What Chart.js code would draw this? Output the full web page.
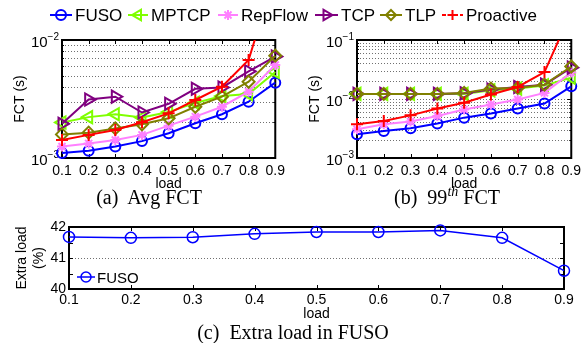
<!DOCTYPE html>
<html><head><meta charset="utf-8">
<script src="https://cdn.jsdelivr.net/npm/chart.js@4.4.1/dist/chart.umd.min.js"></script>
<style>
html,body{margin:0;padding:0;background:#fff;}
body{width:586px;height:343px;position:relative;overflow:hidden;font-family:'Liberation Sans',Arial,Helvetica,sans-serif;color:#000;}
canvas{position:absolute;}
.lgt{position:absolute;font-size:17px;line-height:30px;white-space:nowrap;}
.lgc{position:absolute;font-size:15px;line-height:20px;white-space:nowrap;}
.cap{position:absolute;font-family:'Liberation Serif','Times New Roman',serif;font-size:20px;line-height:20px;white-space:nowrap;transform:translateX(-50%);}
.cap sup{font-size:14px;font-style:italic;line-height:0;}
</style></head><body>
<canvas id="cA" width="290" height="170" style="left:0;top:28px"></canvas>
<canvas id="cB" width="296" height="170" style="left:290px;top:28px"></canvas>
<canvas id="cC" width="586" height="133" style="left:0;top:210px"></canvas>
<svg id="lg" width="586" height="343" style="position:absolute;left:0;top:0;pointer-events:none"></svg>
<div class="cap" style="left:149px;top:187px">(a)&nbsp; Avg FCT</div>
<div class="cap" style="left:447px;top:187px">(b)&nbsp; 99<sup>th</sup> FCT</div>
<div class="cap" style="left:293px;top:322px">(c)&nbsp; Extra load in FUSO</div>
<script>
// ---------------- data ----------------
const loads = ['0.1','0.2','0.3','0.4','0.5','0.6','0.7','0.8','0.9'];
const seriesNames = ['FUSO','MPTCP','RepFlow','TCP','TLP','Proactive'];

// (a) average FCT (s)
const avgFUSO      = [1.10e-3, 1.15e-3, 1.25e-3, 1.39e-3, 1.62e-3, 1.97e-3, 2.35e-3, 3.00e-3, 4.35e-3];
const avgMPTCP     = [2.00e-3, 2.22e-3, 2.35e-3, 2.20e-3, 2.45e-3, 2.93e-3, 3.35e-3, 3.48e-3, 5.36e-3];
const avgRepFlow   = [1.25e-3, 1.33e-3, 1.42e-3, 1.57e-3, 1.88e-3, 2.24e-3, 2.72e-3, 3.65e-3, 6.14e-3];
const avgTCP       = [1.95e-3, 3.13e-3, 3.31e-3, 2.43e-3, 2.88e-3, 3.86e-3, 3.96e-3, 5.43e-3, 7.24e-3];
const avgTLP       = [1.585e-3, 1.64e-3, 1.78e-3, 1.93e-3, 2.17e-3, 2.72e-3, 3.31e-3, 4.43e-3, 7.36e-3];
const avgProactive = [1.42e-3, 1.57e-3, 1.73e-3, 2.01e-3, 2.39e-3, 3.10e-3, 4.02e-3, 6.77e-3, 3.7e-2];

// (b) 99th percentile FCT (s)
const p99FUSO      = [2.53e-3, 2.88e-3, 3.19e-3, 3.83e-3, 4.83e-3, 5.70e-3, 6.92e-3, 8.40e-3, 1.64e-2];
const p99MPTCP     = [1.22e-2, 1.22e-2, 1.22e-2, 1.22e-2, 1.22e-2, 1.40e-2, 1.50e-2, 1.70e-2, 2.30e-2];
const p99RepFlow   = [3.07e-3, 3.73e-3, 4.14e-3, 5.14e-3, 6.66e-3, 8.09e-3, 9.80e-3, 1.27e-2, 2.80e-2];
const p99TCP       = [1.22e-2, 1.22e-2, 1.22e-2, 1.22e-2, 1.25e-2, 1.45e-2, 1.60e-2, 1.75e-2, 3.40e-2];
const p99TLP       = [1.22e-2, 1.22e-2, 1.22e-2, 1.22e-2, 1.27e-2, 1.50e-2, 1.54e-2, 1.75e-2, 3.56e-2];
const p99Proactive = [3.73e-3, 4.24e-3, 5.28e-3, 6.92e-3, 8.63e-3, 1.19e-2, 1.60e-2, 2.86e-2, 3.0e-1];

// (c) extra load in FUSO (%)
const extraLoadFUSO = [41.68, 41.65, 41.67, 41.78, 41.84, 41.84, 41.89, 41.65, 40.59];

// tick labels
const yTicksA = [1e-3, 1e-2];        const yTickLabelsA = ['10^\u22123', '10^\u22122'];
const yTicksB = [1e-3, 1e-2, 1e-1];  const yTickLabelsB = ['10^\u22123', '10^\u22122', '10^\u22121'];
const yTicksC = [40, 41, 42];        const yTickLabelsC = ['40', '41', '42'];
// minor (grid) values
const yMinorA = [2e-3, 3e-3, 4e-3, 5e-3, 6e-3, 7e-3, 8e-3, 9e-3];
const yMinorB = [2e-3, 3e-3, 4e-3, 5e-3, 6e-3, 7e-3, 8e-3, 9e-3, 2e-2, 3e-2, 4e-2, 5e-2, 6e-2, 7e-2, 8e-2, 9e-2];
const yMinorC = [40.5, 41.5];

// ---------------- styles ----------------
const STYLE = {
  FUSO:      {color:'#0000ff', point:'circle',   rot:0,   r:5},
  MPTCP:     {color:'#7fff00', point:'triangle', rot:-90, r:7},
  RepFlow:   {color:'#ff80ff', point:'star',     rot:0,   r:5},
  TCP:       {color:'#800080', point:'triangle', rot:90,  r:7},
  TLP:       {color:'#808000', point:'rectRot',  rot:0,   r:6},
  Proactive: {color:'#ff0000', point:'cross',    rot:0,   r:6}
};
const FONT = "'Liberation Sans', Arial, Helvetica, sans-serif";
Chart.defaults.font.family = FONT;
Chart.defaults.color = '#000';

function labelFor(ticks, labels){
  return (v) => { const i = ticks.findIndex(t => Math.abs(v - t) <= Math.abs(t) * 1e-6 + 1e-12); return i >= 0 ? labels[i] : ''; };
}

// per-canvas frame settings (kept outside chart options)
const FRAME = {
  cA: {major: yTicksA, minor: yMinorA, grid: [...yMinorA], powLabels: yTickLabelsA},
  cB: {major: yTicksB, minor: yMinorB, grid: [...yMinorB, 1e-2], powLabels: yTickLabelsB},
  cC: {major: yTicksC, minor: yMinorC, grid: [41], minorLen: 4}
};

const framePlugin = {
  id: 'frame',
  beforeDatasetsDraw(chart){
    const o = FRAME[chart.canvas.id];
    const {ctx, chartArea:a} = chart; const x = chart.scales.x, y = chart.scales.y;
    const line = (x1,y1,x2,y2)=>{ctx.beginPath();ctx.moveTo(x1,y1);ctx.lineTo(x2,y2);ctx.stroke();};
    ctx.save();
    ctx.strokeStyle = '#707070'; ctx.lineWidth = 1; ctx.setLineDash([1,2]);
    o.grid.forEach(v => {
      const py = Math.round(y.getPixelForValue(v)) + 0.5;
      if (py <= a.top + 2 || py >= a.bottom - 2) return;
      line(a.left, py, a.right, py);
    });
    ctx.setLineDash([]);
    ctx.strokeStyle = '#000'; ctx.lineWidth = 1;
    x.ticks.forEach((t,i) => {
      const px = Math.round(x.getPixelForTick(i)) + 0.5;
      line(px, a.bottom, px, a.bottom - 4); line(px, a.top, px, a.top + 4);
    });
    const yt = (v, len) => { const py = Math.round(y.getPixelForValue(v)) + 0.5; line(a.left, py, a.left + len, py); line(a.right, py, a.right - len, py); };
    o.major.forEach(v => yt(v, 4));
    o.minor.forEach(v => yt(v, o.minorLen || 2));
    ctx.lineWidth = 2;
    ctx.strokeRect(a.left, a.top, a.right - a.left, a.bottom - a.top);
    // power-of-ten tick labels with superscript exponents
    if (o.powLabels) {
      ctx.fillStyle = '#000'; ctx.textBaseline = 'middle'; ctx.textAlign = 'right';
      o.major.forEach((v,i) => {
        const [base, exp] = o.powLabels[i].split('^');
        const py = y.getPixelForValue(v);
        ctx.font = "10px " + FONT;
        const ew = ctx.measureText(exp).width;
        const xr = a.left - 3;
        ctx.fillText(exp, xr, py - 3);
        ctx.font = "15px " + FONT;
        ctx.fillText(base, xr - ew, py + 2.5);
      });
    }
    ctx.restore();
  }
};

function makeDatasets(arrays, lw){
  return arrays.map((d,i) => {
    const s = STYLE[seriesNames[i]];
    return {label: seriesNames[i], data: d, borderColor: s.color, backgroundColor: s.color,
      borderWidth: lw, pointStyle: s.point, pointRotation: s.rot, pointRadius: s.r,
      pointBorderWidth: 2, pointBorderColor: s.color, pointBackgroundColor: 'rgba(0,0,0,0)',
      tension: 0, order: 10 - i, clip: {left: 12, right: 12, top: 0, bottom: 12}};
  });
}

function options(cfg){
  return {
    responsive: false, animation: false, devicePixelRatio: 1,
    layout: {padding: cfg.pad},
    plugins: {legend: {display: false}, tooltip: {enabled: false}},
    scales: {
      x: {type: 'category', offset: false,
          grid: {display: false, drawTicks: false}, border: {display: false},
          ticks: {font: {size: 14}, padding: cfg.xTickPad, maxRotation: 0, autoSkip: false, color: '#000'},
          title: {display: true, text: 'load', font: {size: 14}, padding: {top: 0, bottom: cfg.xTitlePad}, color: '#000'},
          afterFit: s => { s.height = cfg.xHeight; }},
      y: {type: cfg.yType, min: cfg.yMin, max: cfg.yMax,
          grid: {display: false, drawTicks: false}, border: {display: false},
          ticks: Object.assign({display: cfg.showYTicks, font: {size: 14}, padding: cfg.yTickPad, autoSkip: false, callback: cfg.tickCb, color: '#000'}, cfg.stepSize ? {stepSize: cfg.stepSize} : {}),
          title: {display: true, text: cfg.yTitle, font: {size: 14, lineHeight: 1.2}, padding: {top: cfg.yTitlePad, bottom: 0}, color: '#000'},
          afterFit: s => { s.width = cfg.yWidth; }}
    }
  };
}

new Chart(document.getElementById('cA'), {
  type: 'line',
  data: {labels: loads, datasets: makeDatasets([avgFUSO, avgMPTCP, avgRepFlow, avgTCP, avgTLP, avgProactive], 2)},
  options: options({pad: {left: 0, top: 12, right: 12, bottom: 0}, xTickPad: 5, xTitlePad: 5, xHeight: 40,
    yType: 'logarithmic', yMin: 1e-3, yMax: 1e-2, showYTicks: false, tickCb: labelFor(yTicksA, yTickLabelsA), yTickPad: 2,
    yTitle: 'FCT (s)', yTitlePad: 12, yWidth: 62}),
  plugins: [framePlugin]
});

new Chart(document.getElementById('cB'), {
  type: 'line',
  data: {labels: loads, datasets: makeDatasets([p99FUSO, p99MPTCP, p99RepFlow, p99TCP, p99TLP, p99Proactive], 2)},
  options: options({pad: {left: 0, top: 12, right: 14, bottom: 0}, xTickPad: 5, xTitlePad: 5, xHeight: 40,
    yType: 'logarithmic', yMin: 1e-3, yMax: 1e-1, showYTicks: false, tickCb: labelFor(yTicksB, yTickLabelsB), yTickPad: 2,
    yTitle: 'FCT (s)', yTitlePad: 17, yWidth: 67}),
  plugins: [framePlugin]
});

const dsC = makeDatasets([extraLoadFUSO], 1.5);
dsC[0].pointRadius = 5.5; dsC[0].pointBorderWidth = 1.5; dsC[0].clip = false;
new Chart(document.getElementById('cC'), {
  type: 'line',
  data: {labels: loads, datasets: dsC},
  options: options({pad: {left: 0, top: 17, right: 22, bottom: 0}, xTickPad: 3, xTitlePad: 20, xHeight: 54,
    yType: 'linear', yMin: 40, yMax: 42, stepSize: 1, showYTicks: true, tickCb: labelFor(yTicksC, yTickLabelsC), yTickPad: 3,
    yTitle: ['Extra load', '(%)'], yTitlePad: 13.5, yWidth: 69}),
  plugins: [framePlugin]
});

// ---------------- legends (HTML text + SVG symbols) ----------------
const svg = document.getElementById('lg');
const NS = 'http://www.w3.org/2000/svg';
function el(tag, attrs){ const e = document.createElementNS(NS, tag); for (const k in attrs) e.setAttribute(k, attrs[k]); svg.appendChild(e); return e; }
function symbol(name, x1, x2, cy, sw, r){
  const s = STYLE[name], c = s.color, cx = (x1 + x2) / 2;
  const ln = {stroke: c, 'stroke-width': sw, fill: 'none'};
  el('line', Object.assign({x1: x1, y1: cy, x2: x2, y2: cy}, ln, name === 'Proactive' ? {'stroke-dasharray': '4 2'} : {}));
  if (s.point === 'circle') el('circle', Object.assign({cx: cx, cy: cy, r: r}, ln));
  else if (s.point === 'triangle') {
    const d = s.rot < 0 ? -1 : 1, R = r + 1;
    el('polygon', Object.assign({points: `${cx + d*R},${cy} ${cx - d*R*0.5},${cy - R*0.87} ${cx - d*R*0.5},${cy + R*0.87}`}, ln));
  } else if (s.point === 'star') {
    const q = r * 0.707;
    el('path', Object.assign({d: `M${cx-r},${cy}H${cx+r}M${cx},${cy-r}V${cy+r}M${cx-q},${cy-q}L${cx+q},${cy+q}M${cx-q},${cy+q}L${cx+q},${cy-q}`}, ln));
  } else if (s.point === 'rectRot') {
    el('polygon', Object.assign({points: `${cx},${cy-r} ${cx+r},${cy} ${cx},${cy+r} ${cx-r},${cy}`}, ln));
  } else if (s.point === 'cross') {
    el('path', Object.assign({d: `M${cx-r},${cy}H${cx+r}M${cx},${cy-r}V${cy+r}`}, ln));
  }
}
const LEGEND_TOP = [[50,72,75],[128,148,151],[218,238,241],[315,338,341],[380,402,405],[442,463,466]];
seriesNames.forEach((n,i) => {
  const [a,b,t] = LEGEND_TOP[i];
  symbol(n, a, b, 15, 2, 5);
  const d = document.createElement('div'); d.className = 'lgt'; d.style.left = t + 'px'; d.style.top = '1px'; d.textContent = n;
  document.body.appendChild(d);
});
symbol('FUSO', 77, 95, 277, 1.5, 5);
const dc = document.createElement('div'); dc.className = 'lgc'; dc.style.left = '97px'; dc.style.top = '268px'; dc.textContent = 'FUSO';
document.body.appendChild(dc);
</script>
</body></html>
